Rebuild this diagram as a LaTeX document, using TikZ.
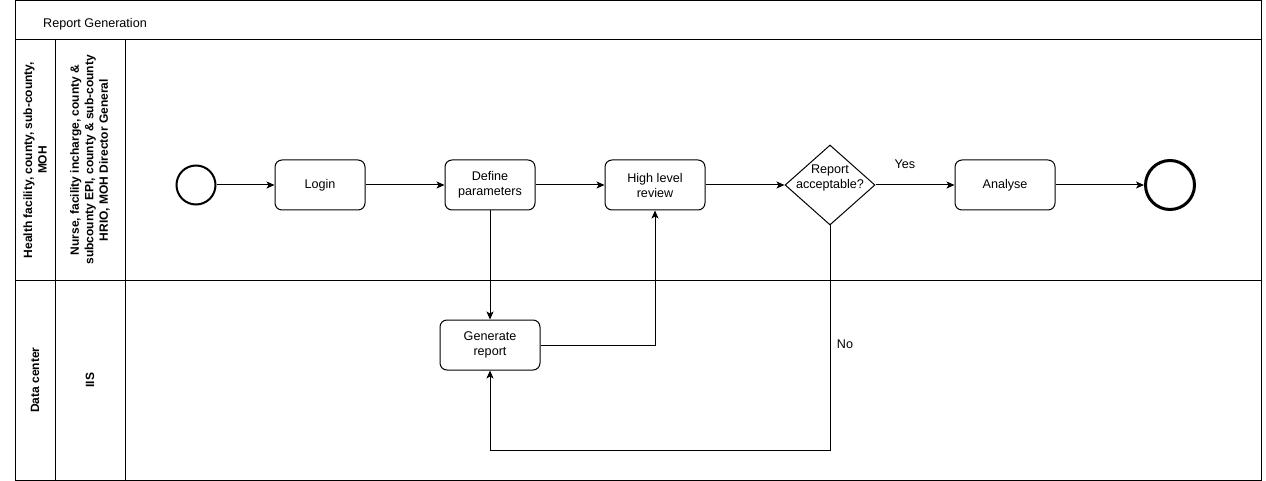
\documentclass[tikz,border=0pt]{standalone}
\usepackage{fontspec}
\setmainfont{Liberation Sans}
\usetikzlibrary{shapes.geometric,arrows.meta}
\begin{document}
\begin{tikzpicture}[x=1pt,y=-1pt,
  every node/.style={font=\fontsize{12.6}{15}\selectfont},
  task/.style={draw,line width=1pt,rounded corners=7pt,minimum width=90pt,minimum height=50pt,inner sep=0pt,align=center},
  flow/.style={draw,line width=1pt,-{Stealth[length=8pt,width=7pt,inset=2pt]}},
  lanelbl/.style={rotate=90,align=center,font=\bfseries\fontsize{12}{14.5}\selectfont},
  frame/.style={draw,line width=1pt}
]
\useasboundingbox (0,0) rectangle (1266,481);
% pool frame
\draw[frame] (15,1) rectangle (1261,480);
\draw[frame] (15,40) -- (1261,40);
\draw[frame] (15,280) -- (1261,280);
\draw[frame] (55,40) -- (55,480);
\draw[frame] (125,40) -- (125,480);
\node (title) at (95,24) {Report Generation};
% lane labels
\node[lanelbl] (l1a) at (35,160) {Health facility, county, sub-county,\\MOH};
\node[lanelbl] (l1b) at (90,160) {Nurse, facility incharge, county \&\\subcounty EPI, county \& sub-county\\HRIO, MOH Director General};
\node[lanelbl] (l2a) at (35,380) {Data center};
\node[lanelbl] (l2b) at (90,380) {IIS};
% nodes
\node[circle,draw,line width=2pt,minimum size=39pt,inner sep=0pt] (start) at (196,185) {};
\node[task] (login) at (320,185) {Login};
\node[task] (define) at (490,185) {Define\\parameters};
\node[task,minimum width=100pt] (review) at (655,185) {High level\\review};
\node[diamond,draw,line width=1pt,minimum width=90pt,minimum height=80pt,inner sep=0pt] (dec) at (830,185) {};
\node[align=center] (dectext) at (830,178) {Report\\acceptable?};
\node[task,minimum width=100pt] (analyse) at (1005,185) {Analyse};
\node[circle,draw,line width=3pt,minimum size=49pt,inner sep=0pt] (end) at (1170,185) {};
\node[task,minimum width=100pt] (gen) at (490,345) {Generate\\report};
% connectors
\draw[flow] (start) -- (login);
\draw[flow] (login) -- (define);
\draw[flow] (define) -- (review);
\draw[flow] (review) -- (dec);
\draw[flow] (dec) -- (analyse);
\node (yes) at (905,164) {Yes};
\draw[flow] (analyse) -- (end);
\draw[flow] (define) -- (gen);
\draw[flow] (gen.east) -| (review.south);
\coordinate (loop) at (830,450);
\draw[flow] (dec.south) -- (loop) -| (gen.south);
\node (no) at (845,344) {No};
\end{tikzpicture}
\end{document}
